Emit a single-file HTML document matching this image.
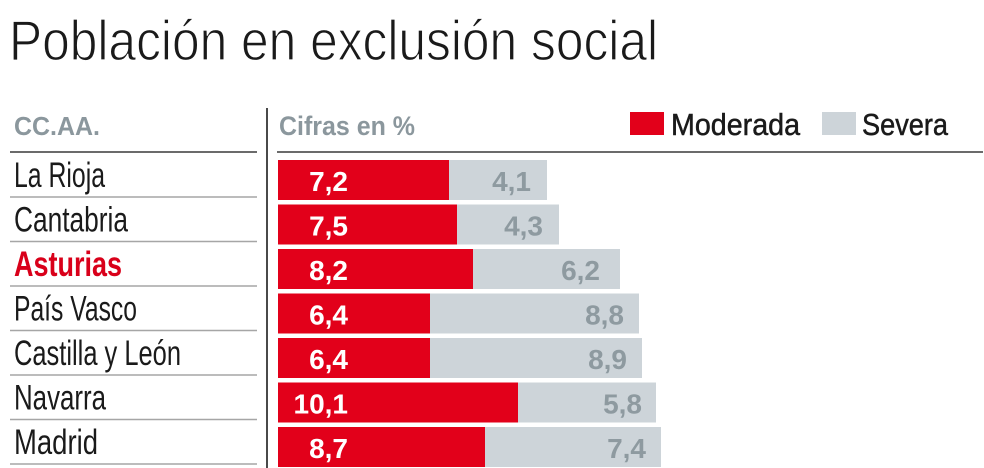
<!DOCTYPE html>
<html>
<head>
<meta charset="utf-8">
<style>
  html,body{margin:0;padding:0;background:#fff;}
  svg{display:block;}
  text{font-family:"Liberation Sans", "DejaVu Sans", sans-serif;}
</style>
</head>
<body>
<svg width="984" height="468" viewBox="0 0 984 468" xmlns="http://www.w3.org/2000/svg">
  <rect width="984" height="468" fill="#fff"/>
  <!-- Title -->
  <text x="9" y="60" font-size="57" fill="#1a1a1a" stroke="#ffffff" stroke-width="1.2" textLength="649" lengthAdjust="spacingAndGlyphs">Población en exclusión social</text>

  <!-- Headers -->
  <text x="14" y="135" font-size="26" font-weight="bold" fill="#8b979d" textLength="86" lengthAdjust="spacingAndGlyphs">CC.AA.</text>
  <text x="279" y="135" font-size="27" font-weight="bold" fill="#8b979d" textLength="136" lengthAdjust="spacingAndGlyphs">Cifras en %</text>

  <!-- Legend -->
  <rect x="630" y="112" width="34" height="23" fill="#e2001a"/>
  <text x="671" y="135" font-size="31" fill="#1a1a1a" stroke="#1a1a1a" stroke-width="0.5" textLength="129" lengthAdjust="spacingAndGlyphs">Moderada</text>
  <rect x="822" y="112" width="34" height="23" fill="#cdd4d9"/>
  <text x="862" y="135" font-size="31" fill="#1a1a1a" stroke="#1a1a1a" stroke-width="0.5" textLength="86" lengthAdjust="spacingAndGlyphs">Severa</text>

  <!-- Header lines -->
  <line x1="10" y1="152" x2="257" y2="152" stroke="#6b6b6b" stroke-width="2"/>
  <line x1="277" y1="152" x2="983" y2="152" stroke="#6b6b6b" stroke-width="2"/>

  <!-- Vertical divider -->
  <line x1="267" y1="108" x2="267" y2="468" stroke="#4a4a4a" stroke-width="2"/>

  <!-- Row separators (left) -->
  <g stroke="#a6a6a6" stroke-width="1.5">
    <line x1="10" y1="197" x2="257" y2="197"/>
    <line x1="10" y1="241.5" x2="257" y2="241.5"/>
    <line x1="10" y1="286" x2="257" y2="286"/>
    <line x1="10" y1="330.5" x2="257" y2="330.5"/>
    <line x1="10" y1="375" x2="257" y2="375"/>
    <line x1="10" y1="419.5" x2="257" y2="419.5"/>
    <line x1="10" y1="464" x2="257" y2="464"/>
  </g>

  <!-- Row labels -->
  <g font-size="35" fill="#1a1a1a">
    <text x="14" y="187" textLength="91" lengthAdjust="spacingAndGlyphs">La Rioja</text>
    <text x="14" y="231.5" textLength="114" lengthAdjust="spacingAndGlyphs">Cantabria</text>
    <text x="14" y="276" font-weight="bold" fill="#d9001a" textLength="108" lengthAdjust="spacingAndGlyphs">Asturias</text>
    <text x="14" y="320.5" textLength="123" lengthAdjust="spacingAndGlyphs">País Vasco</text>
    <text x="14" y="365" textLength="167" lengthAdjust="spacingAndGlyphs">Castilla y León</text>
    <text x="14" y="409.5" textLength="92" lengthAdjust="spacingAndGlyphs">Navarra</text>
    <text x="14" y="454" textLength="84" lengthAdjust="spacingAndGlyphs">Madrid</text>
  </g>

  <!-- Bars -->
  <rect x="278" y="160" width="171" height="40" fill="#e2001a"/>
  <rect x="449" y="160" width="98" height="40" fill="#cdd4d9"/>
  <rect x="278" y="204.5" width="179" height="40" fill="#e2001a"/>
  <rect x="457" y="204.5" width="102" height="40" fill="#cdd4d9"/>
  <rect x="278" y="249" width="195" height="40" fill="#e2001a"/>
  <rect x="473" y="249" width="147" height="40" fill="#cdd4d9"/>
  <rect x="278" y="293.5" width="152" height="40" fill="#e2001a"/>
  <rect x="430" y="293.5" width="209" height="40" fill="#cdd4d9"/>
  <rect x="278" y="338" width="152" height="40" fill="#e2001a"/>
  <rect x="430" y="338" width="212" height="40" fill="#cdd4d9"/>
  <rect x="278" y="382.5" width="240" height="40" fill="#e2001a"/>
  <rect x="518" y="382.5" width="138" height="40" fill="#cdd4d9"/>
  <rect x="278" y="427" width="207" height="40" fill="#e2001a"/>
  <rect x="485" y="427" width="176" height="40" fill="#cdd4d9"/>

  <!-- Red labels -->
  <g font-size="28" font-weight="bold" fill="#ffffff" text-anchor="end">
    <text x="348" y="191">7,2</text>
    <text x="348" y="235.5">7,5</text>
    <text x="348" y="280">8,2</text>
    <text x="348" y="324.5">6,4</text>
    <text x="348" y="369">6,4</text>
    <text x="348" y="413.5">10,1</text>
    <text x="348" y="458">8,7</text>
  </g>
  <!-- Gray labels -->
  <g font-size="28" font-weight="bold" fill="#8e9aa0" text-anchor="end">
    <text x="531" y="191">4,1</text>
    <text x="543" y="235.5">4,3</text>
    <text x="600" y="280">6,2</text>
    <text x="624" y="324.5">8,8</text>
    <text x="627" y="369">8,9</text>
    <text x="642" y="413.5">5,8</text>
    <text x="646" y="458">7,4</text>
  </g>
</svg>
</body>
</html>
